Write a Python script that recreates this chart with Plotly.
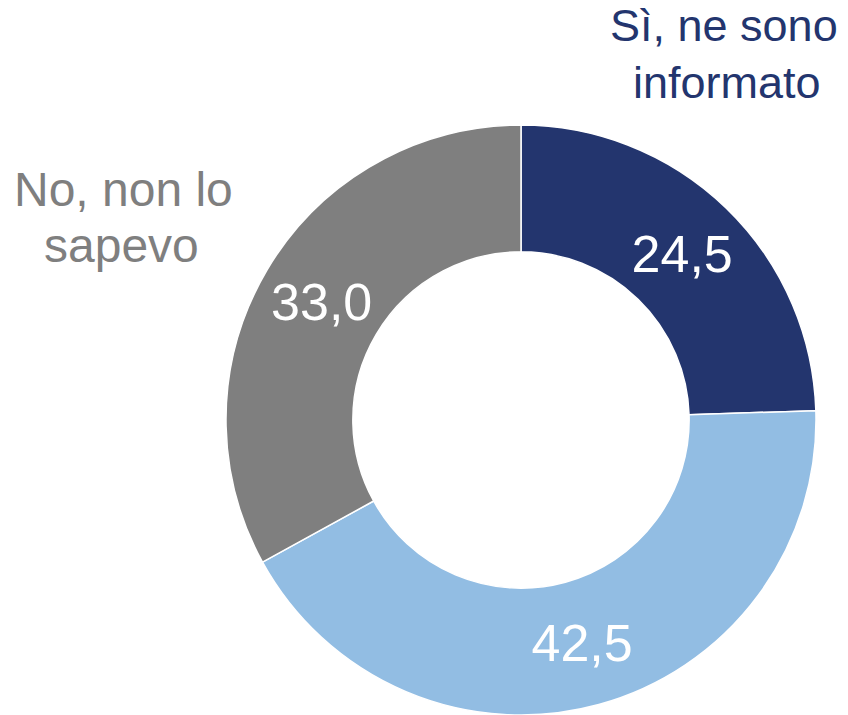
import plotly.graph_objects as go

labels = ["Sì, ne sono informato", "Altro", "No, non lo sapevo"]
values = [24.5, 42.5, 33.0]
text_labels = ["24,5", "42,5", "33,0"]
colors = ["#23356E", "#92BDE3", "#7F7F7F"]
outer_top = ["Sì, ne sono", "informato"]
outer_left = ["No, non lo", "sapevo"]

W, H = 848, 715
cx, cy, R = 521, 420, 295
FONT = "Liberation Sans, Arial, sans-serif"

fig = go.Figure(go.Pie(
    labels=labels,
    values=values,
    text=text_labels,
    textinfo="text",
    textposition="inside",
    insidetextorientation="horizontal",
    insidetextfont=dict(color="white", size=52, family=FONT),
    marker=dict(colors=colors, line=dict(color="white", width=1.5)),
    hole=0.57,
    sort=False,
    direction="clockwise",
    rotation=0,
    showlegend=False,
    domain=dict(x=[(cx - R) / W, (cx + R) / W], y=[1 - (cy + R) / H, 1 - (cy - R) / H]),
))

for txt, (px, py) in zip(outer_top, [(724, 25), (727, 82)]):
    fig.add_annotation(x=px / W, y=1 - py / H, xref="paper", yref="paper",
                       xanchor="center", yanchor="middle", text=txt, showarrow=False,
                       font=dict(size=45, color="#23356E", family=FONT))
for txt, (px, py) in zip(outer_left, [(123, 189), (121, 245)]):
    fig.add_annotation(x=px / W, y=1 - py / H, xref="paper", yref="paper",
                       xanchor="center", yanchor="middle", text=txt, showarrow=False,
                       font=dict(size=48, color="#7F7F7F", family=FONT))

fig.update_layout(width=W, height=H, margin=dict(l=0, r=0, t=0, b=0),
                  paper_bgcolor="white", plot_bgcolor="white")
fig.write_html("out.html", config={"displayModeBar": False},
               post_script="document.body.style.margin='0';")
